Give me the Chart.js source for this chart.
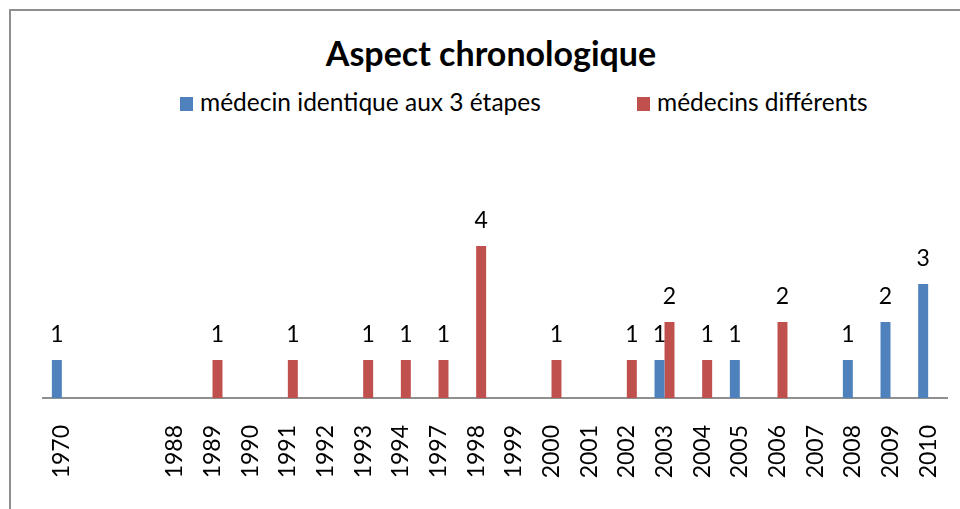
<!DOCTYPE html>
<html>
<head>
<meta charset="utf-8">
<script src="https://cdn.jsdelivr.net/npm/chart.js@4.4.1/dist/chart.umd.min.js"></script>
<style>
  html, body { margin: 0; padding: 0; background: #fff; }
  #wrap { position: relative; width: 960px; height: 509px; overflow: hidden; font-family: Lato, Carlito, "Open Sans", sans-serif; }
  #frame { position: absolute; left: 9px; top: 9px; width: 1000px; height: 600px; border-left: 2px solid #8f8f8f; border-top: 2px solid #8f8f8f; box-sizing: border-box; }
  #title { position: absolute; left: 0; width: 982px; top: 36px; text-align: center; font-size: 34px; line-height: 34px; font-weight: bold; color: #000; }
  .leg { position: absolute; top: 90px; font-size: 24.5px; line-height: 24px; color: #000; white-space: nowrap; }
  .leg span.box { display: inline-block; width: 13px; height: 14px; margin-right: 7px; vertical-align: baseline; }
  canvas { position: absolute; left: 0; top: 0; }
</style>
</head>
<body>
<div id="wrap">
  <div id="frame"></div>
  <div id="title">Aspect chronologique</div>
  <div class="leg" id="leg1" style="left:180px"><span class="box" style="background:#4F81BD"></span><span class="t">médecin identique aux 3 étapes</span></div>
  <div class="leg" id="leg2" style="left:637px"><span class="box" style="background:#C0504D"></span><span class="t">médecins différents</span></div>
  <canvas id="c" width="960" height="509"></canvas>
</div>
<script>
const categories = ["1970", "", "", "1988", "1989", "1990", "1991", "1992", "1993", "1994", "1997", "1998", "1999", "2000", "2001", "2002", "2003", "2004", "2005", "2006", "2007", "2008", "2009", "2010"];
const medecinIdentique = [1, null, null, null, null, null, null, null, null, null, null, null, null, null, null, null, 1, null, 1, null, null, 1, 2, 3];
const medecinsDifferents = [null, null, null, null, 1, null, 1, null, 1, 1, 1, 4, null, 1, null, 1, 2, 1, null, 2, null, null, null, null];
const seriesNames = ["médecin identique aux 3 étapes", "médecins différents"];

const FONT = "Lato, Carlito, 'Open Sans', sans-serif";

const valueLabels = {
  id: 'valueLabels',
  afterDatasetsDraw(chart) {
    const ctx = chart.ctx;
    ctx.save();
    ctx.font = "23px " + FONT;
    ctx.fillStyle = "#000";
    ctx.textAlign = "center";
    ctx.textBaseline = "alphabetic";
    chart.data.datasets.forEach((ds, i) => {
      const meta = chart.getDatasetMeta(i);
      meta.data.forEach((bar, j) => {
        const v = ds.data[j];
        if (v === null || v === undefined) return;
        ctx.fillText(String(v), bar.x, bar.y - 18);
      });
    });
    ctx.restore();
  }
};

new Chart(document.getElementById('c'), {
  type: 'bar',
  data: {
    labels: categories,
    datasets: [
      { label: seriesNames[0], data: medecinIdentique, backgroundColor: '#4F81BD', categoryPercentage: 0.53, barPercentage: 1.0 },
      { label: seriesNames[1], data: medecinsDifferents, backgroundColor: '#C0504D', categoryPercentage: 0.53, barPercentage: 1.0 }
    ]
  },
  options: {
    responsive: false,
    animation: false,
    layout: { padding: { left: 43, right: 13, top: 208, bottom: 0 } },
    plugins: {
      legend: { display: false },
      title: { display: false },
      tooltip: { enabled: false }
    },
    scales: {
      x: {
        grid: { display: false, drawTicks: false },
        border: { display: true, color: '#8f8f8f', width: 2 },
        ticks: {
          autoSkip: false, minRotation: 90, maxRotation: 90, padding: 27,
          color: '#000', font: { family: FONT, size: 23 }
        },
        afterFit(scale) { scale.height = 111; scale.paddingLeft = 0; scale.paddingRight = 0; }
      },
      y: {
        display: false,
        min: 0, max: 5,
        afterFit(scale) { scale.width = 0; }
      }
    }
  },
  plugins: [valueLabels]
});
</script>
</body>
</html>
